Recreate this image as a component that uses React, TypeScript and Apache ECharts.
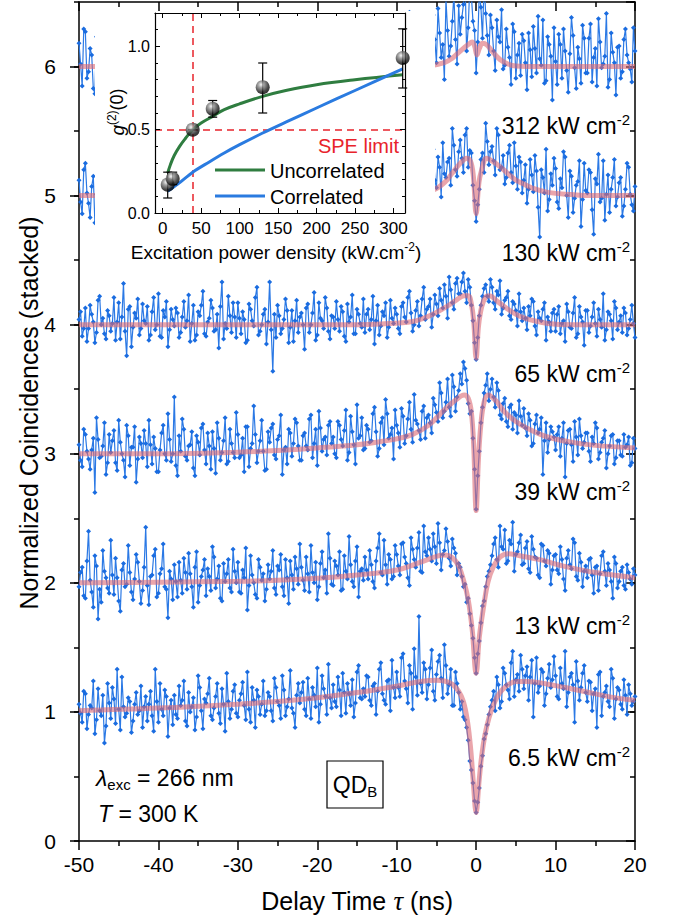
import React, { useEffect, useRef } from 'react';
import * as echarts from 'echarts';

// ---------- main panel data (normalized g2) ----------
// "A" bins sit at -50 + 0.4 i ns, "B" bins at -49.8 + 0.4 i ns (0.2 ns histogram, split in two lists)
const TAU_START_A = -50;
const TAU_START_B = -49.8;
const TAU_STEP = 0.4;
const STACK_OFFSETS = [0, 1, 2, 3, 4, 5];
const POWER_LABELS = ['6.5', '13', '39', '65', '130', '312'];
const LABEL_Y = [758, 626, 492, 374, 253, 126];

const G2_6P5_A = [
  1.06, 0.92, 1.14, 0.98, 1.03, 0.83, 1.18, 0.97, 0.76, 1.22,
  0.95, 1.10, 1.33, 0.86, 1.04, 0.99, 1.08, 0.93, 1.15, 1.01,
  0.88, 1.12, 1.06, 0.97, 1.33, 0.92, 1.02, 1.17, 0.81, 1.09,
  1.13, 0.95, 1.05, 1.24, 0.89, 1.00, 1.11, 0.96, 1.19, 0.87,
  1.07, 1.26, 0.94, 1.12, 0.99, 1.18, 0.85, 1.08, 1.02, 1.21,
  0.96, 1.14, 1.05, 1.31, 0.92, 1.09, 1.17, 0.98, 1.24, 1.01,
  1.12, 0.93, 1.19, 1.05, 1.28, 0.97, 1.10, 1.03, 0.88, 1.22,
  1.15, 1.02, 1.26, 0.95, 1.13, 1.34, 1.06, 1.18, 0.98, 1.11,
  1.21, 1.04, 1.17, 1.30, 0.99, 1.14, 1.25, 1.07, 1.36, 1.10,
  1.12, 1.27, 1.05, 1.22, 1.16, 1.38, 1.09, 1.24, 1.01, 1.19,
  1.31, 1.12, 1.45, 1.18, 1.36, 1.02, 1.27, 1.74, 1.15, 1.33,
  1.21, 1.48, 1.09, 1.39, 1.26, 1.52, 1.14, 1.33, 1.05, 1.22,
  1.02, 0.96, 0.88, 0.62, 0.45, 0.22, 0.41, 0.66, 0.83, 0.98,
  1.09, 1.01, 1.21, 1.08, 1.30, 1.17, 1.38, 1.12, 1.29, 1.44,
  1.18, 1.35, 1.27, 0.96, 1.42, 1.20, 1.31, 1.14, 1.37, 1.25,
  1.28, 1.10, 1.22, 1.47, 1.15, 1.30, 0.92, 1.24, 1.19, 1.36,
  1.08, 1.23, 1.14, 0.88, 1.31, 1.12, 1.20, 1.04, 1.26, 1.10,
  1.17, 1.02, 1.13, 1.21, 1.05, 1.12,
];
const G2_6P5_B = [
  0.99, 1.16, 0.87, 1.05, 1.24, 0.94, 1.01, 1.13, 0.89, 1.07,
  1.19, 0.91, 1.02, 1.27, 0.96, 1.11, 0.84, 1.06, 0.98, 1.20,
  1.04, 0.93, 1.16, 0.85, 1.08, 1.22, 0.97, 1.12, 1.03, 0.90,
  0.98, 1.20, 1.09, 0.93, 1.15, 1.04, 0.86, 1.28, 1.01, 1.10,
  1.14, 0.97, 1.03, 1.22, 0.91, 1.06, 1.30, 0.95, 1.16, 0.99,
  1.09, 1.23, 0.94, 1.02, 1.19, 0.88, 1.12, 1.06, 0.97, 1.15,
  1.01, 1.26, 1.08, 0.95, 1.17, 1.04, 1.32, 0.99, 1.13, 1.07,
  1.23, 0.97, 1.10, 1.19, 1.04, 0.92, 1.28, 1.12, 1.37, 1.03,
  1.08, 1.27, 0.97, 1.15, 1.22, 1.05, 0.96, 1.31, 1.11, 1.18,
  1.28, 1.09, 1.20, 0.98, 1.33, 1.14, 1.06, 1.25, 1.40, 1.11,
  1.19, 1.42, 1.24, 1.07, 1.30, 1.49, 1.13, 1.22, 1.38, 1.10,
  1.34, 1.16, 1.29, 1.44, 1.11, 1.36, 1.21, 1.05, 1.31, 1.15,
  1.08, 0.94, 0.78, 0.55, 0.31, 0.30, 0.58, 0.79, 0.90, 1.04,
  1.16, 1.27, 1.03, 1.34, 1.21, 1.10, 1.47, 1.25, 1.16, 1.33,
  1.28, 1.09, 1.40, 1.22, 1.15, 1.33, 1.05, 1.26, 1.19, 1.43,
  1.12, 1.34, 1.18, 1.04, 1.27, 1.21, 1.39, 1.09, 1.30, 1.15,
  1.24, 1.01, 1.18, 1.29, 0.97, 1.15, 1.08, 1.33, 0.95, 1.19,
  1.06, 1.25, 0.98, 1.14, 1.08,
];

const G2_13_A = [
  0.97, 1.12, 0.88, 1.40, 0.93, 1.21, 0.72, 0.85, 1.09, 0.96,
  1.33, 0.91, 1.04, 0.78, 1.15, 0.99, 1.08, 0.87, 1.22, 1.01,
  0.94, 1.43, 0.83, 1.06, 1.26, 0.92, 1.11, 0.97, 0.73, 1.03,
  1.14, 0.89, 1.02, 1.19, 0.95, 1.07, 0.81, 1.24, 0.98, 1.10,
  0.90, 1.05, 1.28, 0.96, 1.13, 0.86, 1.01, 1.18, 0.93, 1.09,
  1.16, 0.92, 1.04, 0.79, 1.21, 1.00, 0.88, 1.12, 1.07, 0.95,
  1.03, 1.25, 0.91, 1.10, 0.97, 1.18, 0.84, 1.06, 1.20, 0.99,
  1.12, 0.94, 1.07, 1.29, 1.00, 0.87, 1.15, 1.04, 0.92, 1.19,
  0.98, 1.13, 1.24, 0.95, 1.09, 1.36, 1.01, 1.17, 0.89, 1.11,
  1.20, 1.03, 1.14, 0.96, 1.27, 1.08, 1.33, 0.99, 1.18, 1.05,
  1.22, 1.06, 1.31, 1.15, 0.98, 1.26, 1.12, 1.39, 1.08, 1.24,
  1.35, 1.17, 1.28, 1.46, 1.10, 1.25, 1.32, 1.13, 1.27, 1.06,
  1.12, 0.97, 0.85, 0.76, 0.57, 0.30, 0.55, 0.82, 0.97, 1.09,
  1.21, 1.35, 1.12, 1.28, 1.41, 1.17, 1.30, 1.09, 1.24, 1.37,
  1.15, 1.32, 1.08, 1.26, 1.19, 1.04, 1.29, 1.13, 1.23, 1.10,
  1.22, 1.07, 1.18, 0.94, 1.25, 1.11, 1.31, 1.02, 1.16, 1.09,
  1.04, 1.19, 0.92, 1.13, 1.07, 1.24, 0.98, 1.10, 0.88, 1.15,
  1.01, 1.12, 0.95, 1.08, 0.99, 1.06,
];
const G2_13_B = [
  1.08, 0.90, 1.17, 1.02, 0.81, 1.13, 0.95, 1.25, 1.04, 0.92,
  1.06, 1.19, 0.86, 1.10, 0.97, 1.29, 0.93, 1.03, 1.16, 0.84,
  1.12, 0.98, 1.05, 1.21, 0.89, 1.07, 1.30, 0.95, 1.09, 0.87,
  1.01, 1.16, 0.92, 1.08, 1.23, 0.97, 1.12, 0.85, 1.05, 1.18,
  1.11, 0.94, 1.20, 1.03, 0.88, 1.15, 1.07, 0.96, 1.26, 1.00,
  0.93, 1.10, 1.27, 0.98, 1.06, 0.91, 1.18, 1.02, 0.86, 1.14,
  1.09, 0.96, 1.13, 1.22, 0.90, 1.04, 1.17, 0.95, 1.11, 1.30,
  1.02, 1.20, 0.93, 1.08, 1.16, 0.97, 1.24, 1.10, 1.38, 0.99,
  1.17, 1.06, 0.94, 1.21, 1.03, 1.14, 0.97, 1.28, 1.09, 1.02,
  1.10, 1.25, 1.01, 1.17, 1.38, 1.06, 1.14, 1.22, 1.03, 1.29,
  1.13, 1.30, 1.20, 1.04, 1.35, 1.18, 1.27, 1.09, 1.44, 1.21,
  1.26, 1.38, 1.15, 1.31, 1.22, 1.42, 1.19, 1.34, 1.23, 1.15,
  1.05, 0.99, 0.88, 0.67, 0.42, 0.45, 0.69, 0.86, 1.05, 1.14,
  1.30, 1.18, 1.44, 1.26, 1.15, 1.33, 1.47, 1.22, 1.31, 1.14,
  1.27, 1.11, 1.36, 1.20, 1.06, 1.30, 1.17, 1.25, 0.99, 1.21,
  1.10, 1.28, 1.03, 1.19, 1.14, 1.34, 1.05, 1.23, 0.97, 1.13,
  1.18, 1.06, 1.12, 0.94, 1.21, 1.09, 1.15, 1.01, 1.20, 0.96,
  1.09, 0.98, 1.14, 1.03, 1.11,
];

const G2_39_A = [
  1.07, 0.90, 1.15, 0.96, 1.03, 0.70, 1.11, 0.98, 1.24, 0.93,
  1.01, 1.18, 0.87, 1.09, 0.95, 1.22, 0.91, 1.05, 0.78, 1.13,
  0.97, 1.08, 1.26, 0.92, 1.04, 0.86, 1.16, 1.00, 1.31, 0.94,
  1.44, 0.83, 1.02, 1.19, 0.95, 1.07, 0.89, 1.14, 0.99, 1.23,
  0.92, 1.06, 1.17, 0.85, 1.12, 1.01, 1.28, 0.94, 1.08, 0.97,
  1.15, 0.99, 0.86, 1.21, 1.04, 1.37, 0.93, 1.10, 1.02, 0.88,
  1.09, 1.23, 0.96, 1.14, 0.84, 1.05, 1.19, 0.98, 1.27, 1.06,
  0.95, 1.16, 1.03, 1.30, 1.08, 0.91, 1.20, 1.11, 0.99, 1.25,
  1.13, 0.97, 1.22, 1.06, 1.34, 1.01, 1.17, 0.92, 1.12, 1.28,
  1.04, 1.19, 1.10, 1.36, 0.98, 1.24, 1.07, 1.31, 1.15, 0.96,
  1.22, 1.05, 1.29, 1.14, 1.40, 1.09, 1.26, 1.18, 1.33, 1.12,
  1.30, 1.16, 1.38, 1.25, 1.47, 1.33, 1.58, 1.29, 1.52, 1.44,
  1.62, 1.71, 1.57, 1.31, 1.12, 0.57, 1.02, 1.36, 1.53, 1.41,
  1.58, 1.36, 1.49, 1.27, 1.43, 1.21, 1.38, 1.32, 1.16, 1.29,
  1.35, 1.14, 1.26, 1.08, 1.30, 1.19, 0.84, 1.24, 1.11, 1.17,
  1.03, 1.21, 1.12, 0.82, 1.18, 1.07, 1.25, 0.99, 1.14, 1.09,
  1.16, 0.94, 1.08, 1.20, 1.01, 1.12, 0.89, 1.06, 1.15, 0.97,
  1.10, 0.98, 1.05, 1.13, 0.93, 1.04,
];
const G2_39_B = [
  0.95, 1.19, 1.02, 0.88, 1.12, 1.28, 0.97, 1.06, 0.84, 1.15,
  1.10, 0.93, 1.26, 1.00, 0.82, 1.14, 1.05, 1.21, 0.96, 1.08,
  1.18, 0.90, 1.07, 1.13, 0.86, 1.03, 1.22, 0.95, 1.11, 1.00,
  0.91, 1.14, 1.27, 0.98, 1.06, 1.17, 0.83, 1.09, 1.20, 1.03,
  1.16, 0.88, 1.04, 1.24, 0.95, 1.10, 0.92, 1.19, 1.01, 1.32,
  0.97, 1.12, 1.21, 0.90, 1.08, 1.15, 1.02, 1.26, 0.87, 1.17,
  1.20, 0.99, 1.11, 1.30, 1.03, 0.92, 1.16, 1.08, 1.24, 0.95,
  1.14, 1.06, 1.27, 0.97, 1.19, 1.33, 1.02, 1.13, 1.22, 1.08,
  1.00, 1.25, 1.11, 1.18, 0.95, 1.29, 1.07, 1.38, 1.14, 1.03,
  1.22, 1.09, 1.31, 1.17, 1.04, 1.28, 1.42, 1.12, 1.20, 1.34,
  1.16, 1.35, 1.08, 1.27, 1.19, 1.46, 1.23, 1.11, 1.37, 1.28,
  1.24, 1.43, 1.32, 1.55, 1.28, 1.40, 1.36, 1.61, 1.33, 1.49,
  1.54, 1.66, 1.39, 1.33, 0.88, 0.83, 1.24, 1.47, 1.62, 1.50,
  1.44, 1.55, 1.30, 1.39, 1.25, 1.36, 1.19, 1.30, 1.41, 1.22,
  1.20, 1.31, 1.06, 1.23, 1.16, 1.28, 1.10, 1.01, 1.21, 1.13,
  1.15, 0.98, 1.24, 1.08, 1.19, 0.94, 1.13, 1.27, 1.04, 1.16,
  1.02, 1.13, 1.24, 0.96, 1.09, 1.18, 1.00, 1.14, 0.92, 1.10,
  0.99, 1.15, 1.07, 0.91, 1.12,
];

const G2_65_A = [
  1.04, 0.91, 1.13, 0.97, 1.08, 0.86, 1.19, 1.00, 0.93, 1.11,
  0.95, 1.21, 1.02, 0.89, 1.32, 0.76, 1.14, 0.98, 1.05, 0.92,
  1.16, 1.01, 0.88, 1.10, 0.96, 1.24, 0.90, 1.06, 0.83, 1.12,
  0.99, 1.09, 0.94, 1.18, 1.03, 0.87, 1.15, 0.92, 1.07, 1.26,
  0.91, 1.05, 1.13, 0.96, 0.82, 1.33, 1.01, 1.22, 0.94, 1.06,
  1.17, 0.93, 1.04, 0.88, 1.12, 0.99, 1.29, 0.95, 1.08, 0.85,
  1.33, 0.64, 0.90, 1.07, 0.97, 1.20, 0.86, 1.11, 1.03, 0.94,
  1.09, 0.81, 1.16, 1.00, 1.25, 0.92, 1.05, 0.97, 1.13, 0.89,
  1.06, 1.18, 0.95, 1.10, 0.87, 1.02, 1.23, 0.93, 1.08, 0.98,
  0.94, 1.12, 1.04, 0.85, 1.15, 0.99, 1.07, 0.90, 1.19, 1.01,
  1.08, 0.93, 1.17, 1.02, 1.26, 0.95, 1.11, 0.99, 1.20, 1.04,
  1.14, 0.98, 1.23, 1.07, 1.19, 1.31, 1.05, 1.27, 1.12, 1.36,
  1.24, 1.40, 1.17, 1.29, 1.03, 0.73, 1.07, 1.22, 1.31, 1.18,
  1.29, 1.12, 1.23, 1.08, 1.19, 1.26, 1.04, 1.16, 0.99, 1.10,
  1.13, 0.96, 1.07, 1.18, 0.92, 1.05, 1.12, 0.88, 1.02, 1.09,
  0.95, 1.14, 1.01, 0.87, 1.10, 0.97, 1.21, 0.93, 1.06, 0.84,
  1.11, 0.99, 1.17, 0.91, 1.04, 1.24, 0.96, 1.08, 0.89, 1.13,
  1.02, 0.94, 1.09, 0.97, 1.15, 0.90,
];
const G2_65_B = [
  1.10, 0.97, 0.87, 1.15, 1.02, 0.94, 1.22, 1.05, 0.89, 1.07,
  1.01, 0.88, 1.17, 1.06, 0.95, 1.12, 0.83, 1.09, 1.20, 0.97,
  1.03, 1.14, 0.92, 1.21, 1.00, 0.91, 1.11, 1.18, 0.96, 1.04,
  1.13, 0.90, 1.06, 0.98, 1.23, 1.01, 0.88, 1.10, 1.15, 0.93,
  1.02, 1.19, 0.95, 1.08, 1.14, 0.89, 0.97, 1.07, 1.17, 0.90,
  1.05, 1.10, 0.86, 1.16, 1.03, 1.21, 0.92, 1.00, 1.12, 1.02,
  0.96, 1.08, 1.15, 0.93, 1.04, 1.11, 0.98, 0.87, 1.19, 1.06,
  1.00, 1.13, 0.94, 1.09, 0.88, 1.17, 1.03, 1.21, 0.95, 1.07,
  0.97, 1.04, 1.14, 0.91, 1.16, 1.06, 0.93, 1.12, 1.01, 1.20,
  1.08, 0.96, 1.22, 1.03, 0.92, 1.10, 1.17, 0.98, 1.05, 1.13,
  0.97, 1.14, 1.06, 1.21, 1.09, 1.00, 1.18, 1.07, 1.29, 1.12,
  1.20, 1.08, 1.16, 1.28, 1.13, 1.22, 1.37, 1.17, 1.32, 1.24,
  1.33, 1.26, 1.35, 1.15, 0.86, 0.90, 1.15, 1.28, 1.22, 1.35,
  1.17, 1.26, 1.34, 1.13, 1.21, 1.07, 1.18, 1.11, 1.24, 1.03,
  1.05, 1.14, 1.20, 0.99, 1.10, 1.03, 1.17, 1.06, 0.95, 1.12,
  1.08, 0.93, 1.03, 1.16, 0.98, 1.09, 0.90, 1.14, 1.02, 1.11,
  0.94, 1.06, 1.01, 1.12, 0.98, 0.88, 1.10, 1.03, 1.18, 0.96,
  1.07, 1.13, 0.92, 1.04, 1.01,
];

const G2_130_A = [
  1.12, 0.86, 1.25, 0.94, 1.07, 0.79, 1.31, 0.98, 1.18, 0.90,
  1.03, 1.21, 0.84, 1.15, 0.97, 1.34, 0.88, 1.09, 0.76, 1.19,
  0.95, 1.28, 1.06, 0.82, 1.17, 0.99, 1.40, 0.91, 1.13, 0.87,
  1.22, 0.93, 1.08, 1.30, 0.80, 1.04, 1.16, 0.89, 1.26, 1.01,
  0.85, 1.14, 0.97, 1.33, 1.05, 0.78, 1.20, 0.96, 1.11, 0.92,
  1.27, 1.02, 0.88, 1.17, 0.94, 1.36, 1.07, 0.83, 1.15, 1.00,
  0.91, 1.19, 1.05, 0.77, 1.24, 0.98, 1.12, 0.87, 1.32, 1.03,
  1.16, 0.89, 1.29, 1.01, 0.84, 1.21, 0.95, 1.10, 0.81, 1.25,
  1.06, 0.92, 1.18, 1.38, 0.96, 1.09, 0.86, 1.23, 1.00, 0.90,
  1.14, 0.80, 1.07, 1.26, 0.93, 1.17, 1.02, 0.88, 1.31, 0.97,
  1.05, 1.22, 0.91, 1.13, 0.85, 1.28, 1.00, 1.19, 0.94, 1.10,
  1.24, 0.95, 1.12, 1.30, 0.99, 1.17, 1.26, 1.08, 1.39, 1.15,
  1.43, 1.18, 1.52, 1.35, 1.08, 0.80, 1.05, 1.33, 1.56, 1.24,
  1.38, 1.16, 1.47, 1.22, 1.09, 1.33, 1.18, 1.41, 1.05, 1.26,
  1.12, 0.94, 1.28, 1.03, 1.19, 0.68, 1.14, 1.36, 0.97, 1.08,
  1.21, 0.90, 1.06, 1.30, 0.83, 1.15, 0.98, 1.11, 0.76, 1.25,
  1.02, 1.18, 0.70, 1.09, 0.95, 1.27, 1.01, 0.87, 1.14, 0.92,
  1.10, 0.84, 1.05, 1.22, 0.93, 1.07,
];
const G2_130_B = [
  0.95, 1.20, 1.02, 0.83, 1.15, 1.01, 0.92, 1.27, 0.86, 1.11,
  1.28, 0.95, 1.10, 1.02, 0.81, 1.24, 1.05, 0.93, 1.31, 1.00,
  1.07, 0.84, 1.19, 1.35, 0.90, 1.09, 0.97, 1.23, 0.79, 1.14,
  0.96, 1.12, 1.38, 0.87, 1.18, 0.94, 1.03, 1.29, 1.07, 0.85,
  1.21, 1.00, 0.89, 1.10, 1.25, 0.93, 1.06, 0.82, 1.30, 1.04,
  1.09, 0.80, 1.19, 1.06, 0.91, 1.22, 0.97, 1.33, 0.90, 1.12,
  1.26, 1.07, 0.93, 1.16, 1.35, 0.86, 1.04, 1.20, 0.95, 1.13,
  0.98, 1.23, 1.08, 0.91, 1.32, 1.06, 1.17, 0.86, 1.12, 1.01,
  1.27, 0.87, 1.04, 1.15, 0.92, 1.30, 1.11, 0.95, 1.20, 1.08,
  0.93, 1.19, 1.34, 1.00, 1.12, 0.84, 1.24, 1.07, 0.96, 1.21,
  1.16, 0.89, 1.27, 1.05, 1.18, 0.97, 1.35, 1.09, 1.22, 0.99,
  1.12, 1.36, 1.06, 1.22, 1.41, 1.14, 1.29, 1.52, 1.20, 1.34,
  1.29, 1.47, 1.22, 1.33, 0.96, 0.93, 1.28, 1.18, 1.42, 1.34,
  1.27, 1.52, 1.20, 1.31, 1.14, 1.39, 1.10, 1.23, 1.30, 1.02,
  1.24, 1.05, 1.16, 1.31, 0.91, 1.20, 1.02, 0.88, 1.17, 1.29,
  0.95, 1.13, 1.34, 1.00, 1.19, 0.87, 1.08, 1.27, 0.97, 1.04,
  1.20, 0.89, 1.13, 1.32, 0.98, 0.81, 1.16, 1.05, 1.28, 0.99,
  1.14, 0.92, 1.25, 1.01, 0.88,
];

const G2_312_A = [
  1.18, 0.85, 1.27, 0.96, 1.09, 0.79, 1.32, 1.02, 0.90, 1.21,
  0.93, 1.24, 1.06, 0.81, 1.35, 0.98, 1.13, 0.87, 1.20, 1.04,
  1.15, 0.91, 1.29, 1.01, 0.76, 1.18, 0.95, 1.38, 1.07, 0.89,
  1.03, 1.26, 0.84, 1.12, 0.97, 1.33, 0.92, 1.08, 1.22, 0.80,
  1.19, 0.94, 1.07, 1.40, 0.88, 1.14, 1.00, 0.78, 1.25, 1.05,
  0.90, 1.16, 1.31, 0.96, 1.10, 0.83, 1.23, 1.02, 0.94, 1.28,
  1.08, 0.86, 1.20, 1.04, 1.36, 0.91, 1.15, 0.79, 1.11, 0.99,
  1.26, 0.95, 1.09, 0.82, 1.19, 1.03, 1.34, 0.92, 1.06, 1.17,
  0.88, 1.13, 1.00, 1.27, 0.93, 1.21, 0.77, 1.10, 1.30, 0.97,
  1.14, 0.89, 1.23, 1.05, 0.84, 1.37, 0.99, 1.16, 0.92, 1.08,
  1.02, 1.29, 0.87, 1.11, 1.42, 0.95, 1.18, 0.81, 1.24, 1.06,
  1.33, 0.98, 1.21, 1.45, 1.07, 0.90, 1.28, 1.16, 1.56, 1.02,
  1.25, 1.48, 1.12, 1.62, 1.35, 0.95, 1.58, 1.22, 1.41, 1.09,
  1.30, 0.97, 1.23, 1.44, 1.01, 1.15, 0.86, 1.27, 1.09, 0.93,
  1.20, 0.82, 1.13, 1.31, 0.95, 1.06, 1.36, 0.89, 1.17, 0.74,
  1.04, 1.25, 0.91, 1.12, 0.80, 1.38, 0.99, 1.15, 0.87, 1.22,
  0.95, 1.33, 1.07, 0.85, 1.19, 1.02, 1.41, 0.90, 1.11, 0.78,
  1.16, 0.96, 1.29, 1.03, 0.88, 1.12,
];
const G2_312_B = [
  1.02, 1.29, 0.91, 1.14, 0.83, 1.23, 1.07, 0.95, 1.36, 1.00,
  1.17, 0.87, 1.30, 1.08, 0.94, 1.21, 0.79, 1.12, 1.02, 1.27,
  0.86, 1.09, 1.20, 0.93, 1.33, 1.05, 0.84, 1.16, 0.97, 1.24,
  1.11, 0.95, 1.18, 1.37, 0.89, 1.03, 1.25, 0.81, 1.14, 1.06,
  0.96, 1.22, 0.85, 1.11, 1.30, 0.99, 1.17, 1.09, 0.90, 1.34,
  1.13, 0.81, 1.05, 1.19, 0.92, 1.28, 1.00, 1.39, 1.08, 0.87,
  1.24, 1.01, 0.93, 1.17, 0.84, 1.29, 1.04, 1.21, 0.96, 1.35,
  1.04, 1.18, 0.88, 1.31, 0.97, 1.12, 0.85, 1.23, 1.40, 0.94,
  1.19, 1.05, 0.90, 1.16, 1.35, 0.98, 1.12, 1.26, 0.86, 1.22,
  0.97, 1.31, 1.11, 0.93, 1.20, 1.04, 1.29, 0.83, 1.15, 1.27,
  1.16, 0.92, 1.33, 1.04, 1.21, 1.10, 0.89, 1.36, 1.00, 1.19,
  1.12, 1.40, 1.03, 1.26, 1.17, 1.52, 1.08, 1.35, 1.21, 1.47,
  1.38, 1.70, 1.30, 1.55, 1.28, 1.19, 1.46, 1.66, 1.24, 1.40,
  1.12, 1.36, 1.19, 0.98, 1.29, 1.07, 1.33, 0.91, 1.18, 1.25,
  1.03, 1.26, 0.92, 1.14, 1.39, 1.01, 0.87, 1.23, 1.08, 1.30,
  0.86, 1.17, 1.29, 0.97, 1.10, 1.24, 0.83, 1.06, 1.32, 0.95,
  1.22, 0.88, 1.14, 1.37, 0.99, 1.08, 0.84, 1.26, 1.03, 1.15,
  0.91, 1.21, 1.09, 0.98, 1.30,
];

// fitted curves: [tau (ns), normalized g2]
const FIT_6P5 = [
  [-50, 1.01], [-40, 1.03], [-30, 1.06], [-25, 1.08], [-20, 1.11], [-15, 1.15], [-10, 1.2], [-7, 1.235],
  [-5, 1.245], [-4, 1.24], [-3, 1.215], [-2.2, 1.16], [-1.6, 1.08], [-1.1, 0.93], [-0.7, 0.72], [-0.35, 0.45],
  [0, 0.22], [0.35, 0.45], [0.7, 0.66], [1.1, 0.82], [1.6, 0.95], [2.2, 1.06], [3, 1.15], [4, 1.21],
  [5, 1.235], [6.5, 1.235], [9, 1.215], [12, 1.18], [15, 1.14], [18, 1.105], [20, 1.09],
];
const FIT_13 = [
  [-50, 1.0], [-40, 1.005], [-30, 1.012], [-25, 1.02], [-20, 1.035], [-15, 1.06], [-10, 1.1], [-7, 1.16],
  [-5, 1.205], [-4, 1.215], [-3, 1.195], [-2.2, 1.13], [-1.5, 1.0], [-1, 0.87], [-0.5, 0.64], [0, 0.3],
  [0.4, 0.58], [0.9, 0.8], [1.5, 1.01], [2.2, 1.13], [3, 1.2], [4, 1.225], [5.5, 1.21], [8, 1.18],
  [11, 1.13], [15, 1.08], [20, 1.04],
];
const FIT_39 = [
  [-50, 1.0], [-40, 1.0], [-30, 1.012], [-25, 1.025], [-20, 1.045], [-15, 1.07], [-12, 1.095], [-10, 1.115],
  [-8, 1.15], [-6, 1.22], [-4, 1.34], [-2.5, 1.42], [-1.5, 1.455], [-1, 1.43], [-0.6, 1.32], [-0.3, 1.05],
  [0, 0.56], [0.3, 0.97], [0.6, 1.23], [1, 1.4], [1.5, 1.455], [2.5, 1.41], [3.5, 1.33], [5, 1.25],
  [7, 1.18], [9, 1.13], [12, 1.09], [15, 1.065], [20, 1.045],
];
const FIT_65 = [
  [-50, 1.0], [-15, 1.0], [-12, 1.005], [-8, 1.025], [-6, 1.065], [-4, 1.13], [-2.5, 1.19], [-1.5, 1.225],
  [-1, 1.225], [-0.6, 1.16], [-0.3, 1.02], [0, 0.74], [0.3, 0.99], [0.7, 1.14], [1.2, 1.215], [1.7, 1.225],
  [2.5, 1.19], [4, 1.12], [5.5, 1.065], [7, 1.035], [9, 1.01], [12, 1.0], [20, 1.0],
];
const FIT_130 = [
  [-50, 1.0], [-20, 1.0], [-12, 1.004], [-9, 1.012], [-7, 1.025], [-5.3, 1.045], [-4, 1.1], [-3, 1.175],
  [-2, 1.25], [-1.2, 1.29], [-0.7, 1.265], [-0.35, 1.15], [0, 0.86], [0.35, 1.1], [0.7, 1.2], [1.3, 1.29],
  [2, 1.27], [3, 1.225], [4, 1.17], [5, 1.12], [6, 1.09], [7, 1.06], [9, 1.025], [12, 1.008], [15, 1.0], [20, 1.0],
];
const FIT_312 = [
  [-50, 1.0], [-10, 1.0], [-6, 1.005], [-4, 1.03], [-3, 1.065], [-2, 1.12], [-1, 1.17], [-0.5, 1.19],
  [-0.2, 1.16], [0.1, 1.09], [0.4, 1.14], [0.8, 1.18], [1.3, 1.17], [2, 1.12], [3, 1.055], [4, 1.02],
  [5, 1.005], [8, 1.0], [20, 1.0],
];

const TRACE_A = [G2_6P5_A, G2_13_A, G2_39_A, G2_65_A, G2_130_A, G2_312_A];
const TRACE_B = [G2_6P5_B, G2_13_B, G2_39_B, G2_65_B, G2_130_B, G2_312_B];
const TRACE_FITS = [FIT_6P5, FIT_13, FIT_39, FIT_65, FIT_130, FIT_312];

// ---------- inset data ----------
const POWERS = [6.5, 13, 39, 65, 130, 312];
const G2_ZERO = [0.17, 0.205, 0.5, 0.625, 0.755, 0.93];
const G2_ZERO_LO = [0.09, 0.17, 0.5, 0.575, 0.6, 0.75];
const G2_ZERO_HI = [0.245, 0.245, 0.5, 0.675, 0.9, 1.105];
const UNCORRELATED = [
  [6.5, 0.24], [10, 0.29], [15, 0.345], [22, 0.4], [30, 0.45], [39, 0.5], [50, 0.54], [65, 0.58],
  [80, 0.62], [100, 0.655], [130, 0.7], [160, 0.735], [200, 0.77], [250, 0.8], [312, 0.83],
];
const CORRELATED = [
  [6.5, 0.13], [20, 0.175], [39, 0.245], [60, 0.305], [80, 0.36], [100, 0.41], [130, 0.48], [160, 0.545],
  [200, 0.63], [250, 0.735], [312, 0.865],
];
const SPE_POWER = 39;
const SPE_LIMIT = 0.5;

const SANS = '"Liberation Sans", Arial, Helvetica, sans-serif';
const SERIF = '"Liberation Serif", "Times New Roman", serif';
const BLUE_MARK = '#1a6ce0';
const BLUE_LINE = '#2b79e5';
const FIT_COLOR = 'rgba(220,105,115,0.6)';
const GREEN = '#2f7d40';
const BLUE_CURVE = '#2a7be0';
const RED = '#e8232b';

function tracePoints(a: number[], b: number[], off: number) {
  const pts: number[][] = [];
  a.forEach((v, i) => {
    pts.push([TAU_START_A + i * TAU_STEP, v + off]);
    if (i < b.length) pts.push([TAU_START_B + i * TAU_STEP, b[i] + off]);
  });
  return pts;
}

function buildOption() {
  const series: any[] = [];
  TRACE_A.forEach((a, k) => {
    series.push({
      type: 'line',
      xAxisIndex: 0,
      yAxisIndex: 0,
      data: tracePoints(a, TRACE_B[k], STACK_OFFSETS[k]),
      symbol: 'diamond',
      symbolSize: 5,
      showSymbol: true,
      showAllSymbol: true,
      itemStyle: { color: BLUE_MARK },
      lineStyle: { color: BLUE_LINE, width: 1.2 },
      z: 1,
      silent: true,
      clip: true,
    });
  });
  TRACE_FITS.forEach((fit, k) => {
    const off = STACK_OFFSETS[k];
    series.push({
      type: 'line',
      xAxisIndex: 0,
      yAxisIndex: 0,
      data: fit.map(([t, v]) => [t, v + off]),
      smooth: 0.4,
      symbol: 'none',
      lineStyle: { color: FIT_COLOR, width: 5 },
      z: 2,
      silent: true,
      clip: true,
    });
  });

  // inset
  series.push({
    type: 'line',
    xAxisIndex: 2,
    yAxisIndex: 4,
    data: UNCORRELATED,
    smooth: 0.4,
    symbol: 'none',
    lineStyle: { color: GREEN, width: 3 },
    z: 7,
    silent: true,
    markLine: {
      silent: true,
      symbol: ['none', 'none'],
      label: { show: false },
      lineStyle: { color: RED, type: [7, 5], width: 1.5 },
      data: [{ xAxis: SPE_POWER }, { yAxis: SPE_LIMIT }],
      z: 6,
    },
  });
  series.push({
    type: 'line',
    xAxisIndex: 2,
    yAxisIndex: 4,
    data: CORRELATED,
    smooth: 0.3,
    symbol: 'none',
    lineStyle: { color: BLUE_CURVE, width: 3 },
    z: 7,
    silent: true,
  });
  series.push({
    type: 'custom',
    xAxisIndex: 2,
    yAxisIndex: 4,
    data: POWERS.map((p, i) => [p, G2_ZERO_LO[i], G2_ZERO_HI[i]]),
    encode: { x: 0, y: [1, 2] },
    z: 8,
    silent: true,
    renderItem: (params: any, api: any) => {
      const x = api.value(0);
      const lo = api.coord([x, api.value(1)]);
      const hi = api.coord([x, api.value(2)]);
      const st = { stroke: '#000', lineWidth: 1.2 };
      const cap = 4.5;
      return {
        type: 'group',
        children: [
          { type: 'line', shape: { x1: hi[0], y1: hi[1], x2: lo[0], y2: lo[1] }, style: st },
          { type: 'line', shape: { x1: hi[0] - cap, y1: hi[1], x2: hi[0] + cap, y2: hi[1] }, style: st },
          { type: 'line', shape: { x1: lo[0] - cap, y1: lo[1], x2: lo[0] + cap, y2: lo[1] }, style: st },
        ],
      };
    },
  });
  series.push({
    type: 'scatter',
    xAxisIndex: 2,
    yAxisIndex: 4,
    data: POWERS.map((p, i) => [p, G2_ZERO[i]]),
    symbol: 'circle',
    symbolSize: 14,
    itemStyle: {
      color: new echarts.graphic.RadialGradient(0.38, 0.32, 0.7, [
        { offset: 0, color: '#f2f2f2' },
        { offset: 0.3, color: '#8a8a8a' },
        { offset: 0.75, color: '#1a1a1a' },
        { offset: 1, color: '#000' },
      ]),
    },
    z: 9,
    silent: true,
  });

  const axLine = { show: true, onZero: false, lineStyle: { color: '#000', width: 1.5 } };
  const tickStyle = { color: '#000', width: 1.5 };
  const noSplit = { show: false };
  const lbl = { fontSize: 21, color: '#000', fontFamily: SANS };

  const xAxis: any[] = [
    {
      type: 'value', gridIndex: 0, position: 'bottom', min: -50, max: 20, interval: 10,
      axisLine: axLine,
      axisTick: { show: true, inside: false, length: 9, lineStyle: tickStyle },
      minorTick: { show: true, splitNumber: 2, length: 5, lineStyle: tickStyle },
      axisLabel: { ...lbl, margin: 13 },
      splitLine: noSplit,
    },
    {
      type: 'value', gridIndex: 0, position: 'top', min: -50, max: 20, interval: 10,
      axisLine: axLine,
      axisTick: { show: true, inside: true, length: 9, lineStyle: tickStyle },
      minorTick: { show: true, splitNumber: 2, length: 5, lineStyle: tickStyle },
      axisLabel: { show: false },
      splitLine: noSplit,
    },
    {
      type: 'value', gridIndex: 1, position: 'bottom', min: -10, max: 315,
      z: 6,
      axisLine: { show: true, onZero: false, lineStyle: { color: '#000', width: 1.2 } },
      axisTick: { show: true, inside: true, length: 5, lineStyle: { color: '#000', width: 1 } },
      minorTick: { show: true, splitNumber: 2, length: 3, lineStyle: { color: '#000', width: 1 } },
      axisLabel: { fontSize: 17, color: '#000', fontFamily: SANS, margin: 7, showMinLabel: false, showMaxLabel: false },
      splitLine: noSplit,
    },
    {
      type: 'value', gridIndex: 1, position: 'top', min: -10, max: 315,
      z: 6,
      axisLine: { show: true, onZero: false, lineStyle: { color: '#000', width: 1.2 } },
      axisTick: { show: true, inside: true, length: 5, lineStyle: { color: '#000', width: 1 } },
      minorTick: { show: true, splitNumber: 2, length: 3, lineStyle: { color: '#000', width: 1 } },
      axisLabel: { show: false },
      splitLine: noSplit,
    },
  ];

  const yMain = (pos: string, interval: number, len: number, inside: boolean, showLine: boolean, showLabel: boolean) => ({
    type: 'value', gridIndex: 0, position: pos, min: 0, max: 6.5, interval,
    axisLine: showLine ? axLine : { show: false, onZero: false },
    axisTick: { show: true, inside, length: len, lineStyle: tickStyle },
    axisLabel: showLabel ? { ...lbl, margin: 23, showMaxLabel: false } : { show: false },
    splitLine: noSplit,
  });
  const yInset = (pos: string, interval: number, len: number, showLine: boolean, showLabel: boolean) => ({
    type: 'value', gridIndex: 1, position: pos, min: 0, max: 1.2, interval,
    z: 6,
    axisLine: showLine ? { show: true, onZero: false, lineStyle: { color: '#000', width: 1.2 } } : { show: false, onZero: false },
    axisTick: { show: true, inside: true, length: len, lineStyle: { color: '#000', width: 1 } },
    axisLabel: showLabel
      ? { fontSize: 16, color: '#000', fontFamily: SANS, margin: 5, showMaxLabel: false, formatter: (v: number) => v.toFixed(1) }
      : { show: false },
    splitLine: noSplit,
  });

  const yAxis: any[] = [
    yMain('left', 1, 9, false, true, true),
    yMain('left', 0.5, 5, false, false, false),
    yMain('right', 1, 9, true, true, false),
    yMain('right', 0.5, 5, true, false, false),
    yInset('left', 0.5, 5, true, true),
    yInset('left', 0.1, 3, false, false),
    yInset('right', 0.5, 5, true, false),
    yInset('right', 0.1, 3, false, false),
  ];

  const txt = (x: number, y: number, text: string, extra: any = {}, elExtra: any = {}) => ({
    type: 'text', x, y, z: 10, silent: true, ...elExtra,
    style: { text, fontFamily: SANS, fill: '#000', ...extra },
  });

  const graphic: any[] = [
    { type: 'rect', shape: { x: 95, y: 11, width: 340, height: 255 }, style: { fill: '#fff' }, z: 5, silent: true },
    // axis titles
    txt(29, 413, 'Normalized Coincidences (stacked)', { fontSize: 25, align: 'center', verticalAlign: 'middle' }, { rotation: Math.PI / 2 }),
    txt(357, 901, '{a|Delay Time }{t|τ}{a| (ns)}', {
      align: 'center', verticalAlign: 'middle',
      rich: {
        a: { fontSize: 25, fontFamily: SANS, fill: '#000' },
        t: { fontSize: 27, fontFamily: SERIF, fontStyle: 'italic', fill: '#000' },
      },
    }),
    // inset titles
    txt(276, 252, '{a|Excitation power density (kW.cm}{s|-2}{a|)}', {
      align: 'center', verticalAlign: 'middle',
      rich: {
        a: { fontSize: 19, fontFamily: SANS, fill: '#000', lineHeight: 22 },
        s: { fontSize: 12, fontFamily: SANS, fill: '#000', verticalAlign: 'top', lineHeight: 12 },
      },
    }),
    txt(117, 112, '{g|g}{s|(2)}{a|(0)}', {
      align: 'center', verticalAlign: 'middle',
      rich: {
        g: { fontSize: 19, fontFamily: SANS, fontStyle: 'italic', fill: '#000', lineHeight: 22 },
        s: { fontSize: 12, fontFamily: SANS, fill: '#000', verticalAlign: 'top', lineHeight: 12 },
        a: { fontSize: 18, fontFamily: SANS, fill: '#000', lineHeight: 22 },
      },
    }, { rotation: Math.PI / 2 }),
    // inset legend
    { type: 'line', shape: { x1: 215, y1: 170, x2: 265, y2: 170 }, style: { stroke: GREEN, lineWidth: 3 }, z: 10, silent: true },
    { type: 'line', shape: { x1: 215, y1: 196, x2: 265, y2: 196 }, style: { stroke: BLUE_CURVE, lineWidth: 3 }, z: 10, silent: true },
    txt(270, 171, 'Uncorrelated', { fontSize: 20, verticalAlign: 'middle' }),
    txt(270, 197, 'Correlated', { fontSize: 20, verticalAlign: 'middle' }),
    txt(399, 146, 'SPE limit', { fontSize: 20, fill: RED, align: 'right', verticalAlign: 'middle' }),
    // conditions
    txt(96, 778, '{l|λ}{b|exc}{a| = 266 nm}', {
      verticalAlign: 'middle',
      rich: {
        l: { fontSize: 23, fontFamily: SANS, fontStyle: 'italic', fill: '#000', lineHeight: 28 },
        b: { fontSize: 15, fontFamily: SANS, fill: '#000', verticalAlign: 'bottom', lineHeight: 15 },
        a: { fontSize: 23, fontFamily: SANS, fill: '#000', lineHeight: 28 },
      },
    }),
    txt(98, 814, '{t|T}{a| = 300 K}', {
      verticalAlign: 'middle',
      rich: {
        t: { fontSize: 23, fontFamily: SANS, fontStyle: 'italic', fill: '#000', lineHeight: 28 },
        a: { fontSize: 23, fontFamily: SANS, fill: '#000', lineHeight: 28 },
      },
    }),
    { type: 'rect', shape: { x: 327, y: 761, width: 56, height: 47 }, style: { fill: 'none', stroke: '#000', lineWidth: 1.2 }, z: 10, silent: true },
    txt(355, 785, '{a|QD}{b|B}', {
      align: 'center', verticalAlign: 'middle',
      rich: {
        a: { fontSize: 23, fontFamily: SANS, fill: '#000', lineHeight: 28 },
        b: { fontSize: 15, fontFamily: SANS, fill: '#000', verticalAlign: 'bottom', lineHeight: 15 },
      },
    }),
  ];

  POWER_LABELS.forEach((p, k) => {
    graphic.push(
      txt(630, LABEL_Y[k], `{a|${p} kW cm}{s|-2}`, {
        align: 'right', verticalAlign: 'middle',
        rich: {
          a: { fontSize: 23, fontFamily: SANS, fill: '#000', lineHeight: 28 },
          s: { fontSize: 15, fontFamily: SANS, fill: '#000', verticalAlign: 'top', lineHeight: 15 },
        },
      })
    );
  });

  return {
    animation: false,
    backgroundColor: '#fff',
    grid: [
      { left: 79, right: 48, top: 2, bottom: 80 },
      { left: 155, top: 13, width: 250, height: 200 },
    ],
    xAxis,
    yAxis,
    series,
    graphic,
  };
}

export default function App() {
  const ref = useRef<HTMLDivElement>(null);
  useEffect(() => {
    if (!ref.current) return;
    const chart = echarts.init(ref.current, undefined, { renderer: 'svg' });
    chart.setOption(buildOption() as any);
    return () => chart.dispose();
  }, []);
  return (
    <div
      ref={ref}
      style={{ position: 'absolute', left: 0, top: 0, width: 683, height: 921, background: '#fff' }}
    />
  );
}
